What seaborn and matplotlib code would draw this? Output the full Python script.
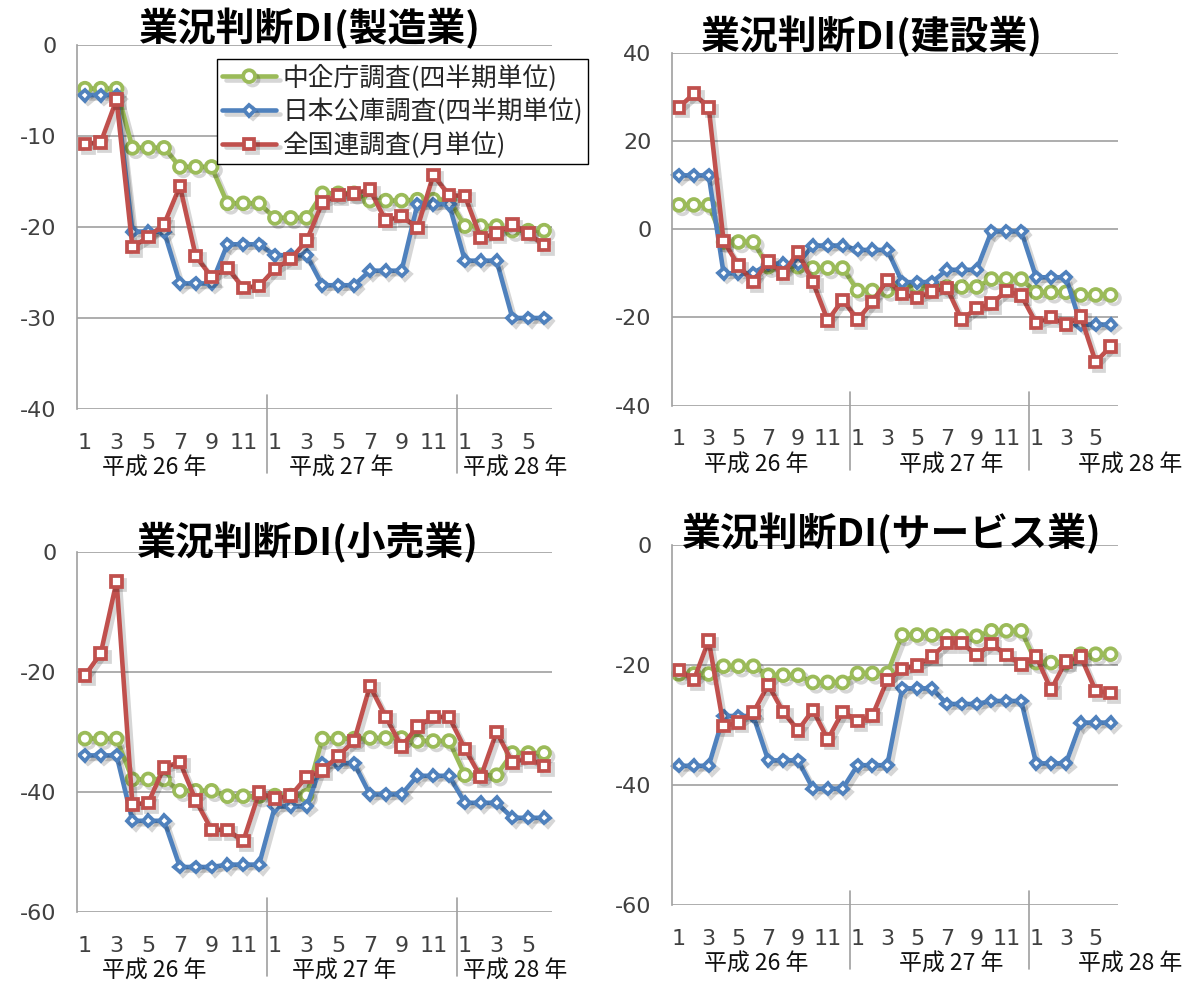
import numpy as np
import matplotlib
matplotlib.use("Agg")
import matplotlib.pyplot as plt
from matplotlib import patheffects as pe
import seaborn as sns

# ---------------------------------------------------------------------------
# データ (平成26年1月〜平成28年6月, 月次)
# ---------------------------------------------------------------------------
MONTH_LABELS = ["1", "3", "5", "7", "9", "11",
                "1", "3", "5", "7", "9", "11",
                "1", "3", "5"]
YEAR_LABELS = ["平成 26 年", "平成 27 年", "平成 28 年"]
SERIES_NAMES = ["中企庁調査(四半期単位)", "日本公庫調査(四半期単位)", "全国連調査(月単位)"]

# 製造業
mfg_chukicho = [-4.8, -4.8, -4.8, -11.3, -11.3, -11.3, -13.4, -13.4, -13.4, -17.4, -17.4, -17.4,
                -19.0, -19.0, -19.0, -16.3, -16.3, -16.3, -17.1, -17.1, -17.1, -17.0, -17.0, -17.0,
                -19.9, -19.9, -19.9, -20.4, -20.4, -20.4]
mfg_koko = [-5.5, -5.5, -5.5, -20.5, -20.5, -20.5, -26.2, -26.2, -26.2, -21.9, -21.9, -21.9,
            -23.1, -23.1, -23.1, -26.4, -26.4, -26.4, -24.8, -24.8, -24.8, -17.5, -17.5, -17.5,
            -23.7, -23.7, -23.7, -30.0, -30.0, -30.0]
mfg_zenkokuren = [-10.9, -10.7, -6.0, -22.2, -21.1, -19.7, -15.5, -23.2, -25.5, -24.5, -26.7, -26.5,
                  -24.6, -23.5, -21.5, -17.3, -16.5, -16.3, -15.9, -19.3, -18.8, -20.1, -14.3, -16.5,
                  -16.6, -21.2, -20.7, -19.7, -20.7, -22.0]

# 建設業
con_chukicho = [5.5, 5.5, 5.5, -2.9, -2.9, -2.9, -8.5, -8.5, -8.5, -8.8, -8.8, -8.8,
                -13.9, -13.9, -13.9, -13.0, -13.0, -13.0, -13.1, -13.1, -13.1, -11.3, -11.3, -11.3,
                -14.3, -14.3, -14.3, -14.9, -14.9, -14.9]
con_koko = [12.2, 12.2, 12.2, -10.0, -10.0, -10.0, -7.8, -7.8, -7.8, -3.7, -3.7, -3.7,
            -4.7, -4.7, -4.7, -12.0, -12.0, -12.0, -9.2, -9.2, -9.2, -0.5, -0.5, -0.5,
            -10.9, -10.9, -10.9, -21.6, -21.6, -21.6]
con_zenkokuren = [27.6, 30.7, 27.6, -2.7, -8.2, -12.0, -7.3, -10.1, -5.2, -12.0, -20.7, -16.0,
                  -20.5, -16.5, -11.5, -14.7, -15.6, -14.1, -13.3, -20.5, -17.9, -16.9, -14.0, -15.0,
                  -21.3, -19.9, -21.6, -19.8, -30.1, -26.6]

# 小売業
ret_chukicho = [-31.1, -31.1, -31.1, -37.9, -37.9, -37.9, -39.8, -39.8, -39.8, -40.7, -40.7, -40.7,
                -40.6, -40.6, -40.6, -31.1, -31.1, -31.1, -31.0, -31.0, -31.0, -31.5, -31.5, -31.5,
                -37.2, -37.2, -37.2, -33.5, -33.5, -33.5]
ret_koko = [-33.9, -33.9, -33.9, -44.8, -44.8, -44.8, -52.5, -52.5, -52.5, -52.1, -52.1, -52.1,
            -42.4, -42.4, -42.4, -35.2, -35.2, -35.2, -40.4, -40.4, -40.4, -37.3, -37.3, -37.3,
            -41.8, -41.8, -41.8, -44.3, -44.3, -44.3]
ret_zenkokuren = [-20.6, -16.9, -4.9, -42.1, -41.8, -35.9, -35.0, -41.4, -46.3, -46.3, -48.2, -40.1,
                  -41.1, -40.6, -37.5, -36.4, -34.0, -31.5, -22.3, -27.5, -32.4, -29.1, -27.5, -27.5,
                  -32.8, -37.5, -30.0, -35.1, -34.3, -35.7]

# サービス業
svc_chukicho = [-21.5, -21.5, -21.5, -20.2, -20.2, -20.2, -21.7, -21.7, -21.7, -22.9, -22.9, -22.9,
                -21.4, -21.4, -21.4, -15.0, -15.0, -15.0, -15.2, -15.2, -15.2, -14.3, -14.3, -14.3,
                -19.6, -19.6, -19.6, -18.2, -18.2, -18.2]
svc_koko = [-36.8, -36.8, -36.8, -28.5, -28.5, -28.5, -35.9, -35.9, -35.9, -40.6, -40.6, -40.6,
            -36.7, -36.7, -36.7, -23.9, -23.9, -23.9, -26.5, -26.5, -26.5, -26.0, -26.0, -26.0,
            -36.4, -36.4, -36.4, -29.6, -29.6, -29.6]
svc_zenkokuren = [-20.8, -22.5, -15.9, -30.2, -29.6, -27.9, -23.3, -27.8, -30.9, -27.5, -32.4, -27.8,
                  -29.3, -28.4, -22.5, -20.7, -20.1, -18.6, -16.3, -16.3, -18.3, -16.5, -18.3, -19.9,
                  -18.6, -24.1, -19.4, -18.6, -24.3, -24.7]

# ---------------------------------------------------------------------------
# 見た目の設定
# ---------------------------------------------------------------------------
W, H = 1194, 983
CJK = ["Noto Sans CJK JP", "DejaVu Sans"]
COLORS = ["#9BBB59", "#4F81BD", "#C0504D"]
MARKERS = ["o", "D", "s"]
MSIZES = [8.5, 5.6, 7.6]
GRID_C = "#a0a0a0"
TICK_C = "#404040"

sns.set_style("white")
plt.rcParams["font.family"] = ["DejaVu Sans"]

# (title, data, ylim, yticks, axes box px [left, right, top, bottom],
#  title center px, year label x positions)
panels = [
    ("業況判断DI(製造業)", (mfg_chukicho, mfg_koko, mfg_zenkokuren),
     (-40, 0), [0, -10, -20, -30, -40], (77, 552, 45, 409), (310, 29), (4.4, 16.2, 27.2)),
    ("業況判断DI(建設業)", (con_chukicho, con_koko, con_zenkokuren),
     (-40, 40), [40, 20, 0, -20, -40], (671.5, 1118, 52.7, 405.7), (872, 37), (5.2, 18.3, 30.3)),
    ("業況判断DI(小売業)", (ret_chukicho, ret_koko, ret_zenkokuren),
     (-60, 0), [0, -20, -40, -60], (77, 552, 552, 912), (308, 543), (4.4, 16.4, 27.2)),
    ("業況判断DI(サービス業)", (svc_chukicho, svc_koko, svc_zenkokuren),
     (-60, 0), [0, -20, -40, -60], (671.5, 1118, 545, 905), (892, 534), (5.2, 18.3, 30.3)),
]

fig = plt.figure(figsize=(W / 100, H / 100), dpi=100)
x = np.arange(30)
shadow = [pe.SimpleLineShadow(offset=(2.5, -2.5), shadow_color="black", alpha=0.16), pe.Normal()]

legend_handles = None
for title, series, ylim, yticks, (l, r, t, b), (tx, ty), year_x in panels:
    ax = fig.add_axes([l / W, 1 - b / H, (r - l) / W, (b - t) / H])
    for vals, name, c, m, ms in zip(series, SERIES_NAMES, COLORS, MARKERS, MSIZES):
        sns.lineplot(x=x, y=vals, ax=ax, color=c, linewidth=3.3, marker=m,
                     markersize=ms, markerfacecolor="white", markeredgecolor=c,
                     markeredgewidth=2.7, label=name, legend=False,
                     path_effects=shadow, clip_on=False)
    ax.set_xlim(-0.5, 29.5)
    ax.set_ylim(*ylim)
    ax.set_yticks(yticks)
    ax.set_yticklabels([str(v) for v in yticks])
    ax.set_xticks(range(0, 30, 2))
    ax.set_xticklabels(MONTH_LABELS)
    ax.set_xlabel("")
    ax.set_ylabel("")

    for s in ["top", "right", "bottom"]:
        ax.spines[s].set_visible(False)
    ax.spines["left"].set_color(GRID_C)
    ax.spines["left"].set_linewidth(1.2)
    ax.yaxis.grid(True, color=GRID_C, linewidth=1.2)
    ax.xaxis.grid(False)
    ax.set_axisbelow(True)
    ax.tick_params(axis="y", length=6.5, width=1.2, color=GRID_C, pad=8,
                   labelsize=16, labelcolor=TICK_C)
    ax.tick_params(axis="x", length=0, pad=17, labelsize=16, labelcolor=TICK_C)

    # 年の区切り線と年ラベル
    hpx = b - t
    for xs in (11.5, 23.5):
        ax.plot([xs, xs], [14 / hpx, -64 / hpx], transform=ax.get_xaxis_transform(),
                color=GRID_C, linewidth=1.2, clip_on=False)
    for yx, lab in zip(year_x, YEAR_LABELS):
        ax.text(yx, -59 / hpx, lab, transform=ax.get_xaxis_transform(),
                ha="center", va="center", fontsize=16.5, family=CJK, color="#111111")

    fig.text(tx / W, 1 - ty / H, title, ha="center", va="center",
             fontsize=28, fontweight="bold", family=CJK, color="black")

    if legend_handles is None:
        legend_handles = ax.get_legend_handles_labels()

leg = fig.legend(*legend_handles, loc="upper left",
                 bbox_to_anchor=(217 / W, 1 - 59 / H), borderaxespad=0,
                 frameon=True, fancybox=False, edgecolor="black", framealpha=1,
                 prop={"family": CJK, "size": 18.5}, handlelength=2.1,
                 handletextpad=0.25, borderpad=0.2, labelspacing=0.28)
leg.get_frame().set_linewidth(1.0)

fig.savefig("out.png", dpi=100, facecolor="white")
